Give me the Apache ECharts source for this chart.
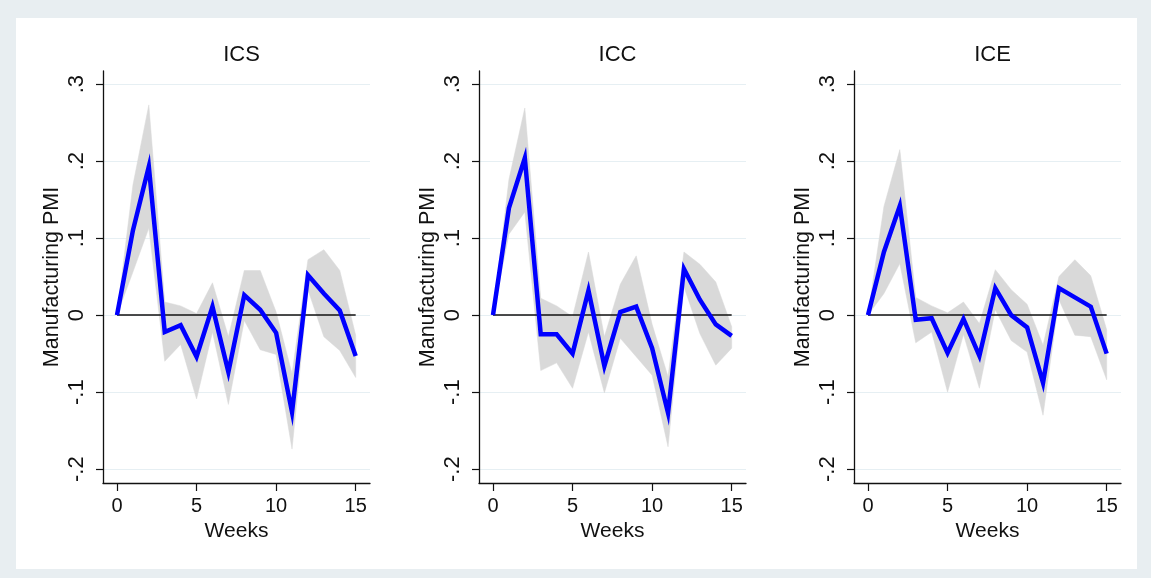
<!DOCTYPE html>
<html>
<head>
<meta charset="utf-8">
<script src="https://cdn.jsdelivr.net/npm/echarts@6.0.0/dist/echarts.min.js"></script>
<style>
  html, body { margin: 0; padding: 0; }
  #chart { width: 1151px; height: 578px; }
</style>
</head>
<body>
<div id="chart"></div>
<script>
// weeks after shock
const weeks = [0, 1, 2, 3, 4, 5, 6, 7, 8, 9, 10, 11, 12, 13, 14, 15];

// ICS
const icsIrf   = [0, 0.110, 0.193, -0.022, -0.013, -0.054, 0.011, -0.074, 0.026, 0.007, -0.023, -0.126, 0.052, 0.028, 0.006, -0.053];
const icsLower = [0, 0.056, 0.113, -0.060, -0.038, -0.109, -0.022, -0.116, -0.007, -0.045, -0.051, -0.174, 0.033, -0.028, -0.046, -0.081];
const icsUpper = [0, 0.169, 0.273, 0.017, 0.012, 0.002, 0.042, -0.028, 0.058, 0.058, 0.004, -0.076, 0.072, 0.085, 0.058, -0.026];

// ICC
const iccIrf   = [0, 0.139, 0.204, -0.025, -0.025, -0.050, 0.032, -0.066, 0.004, 0.011, -0.043, -0.127, 0.060, 0.020, -0.012, -0.027];
const iccLower = [0, 0.105, 0.134, -0.072, -0.062, -0.095, -0.022, -0.101, -0.030, -0.054, -0.078, -0.171, 0.037, -0.024, -0.065, -0.043];
const iccUpper = [0, 0.176, 0.269, 0.022, 0.012, -0.002, 0.082, -0.028, 0.040, 0.077, -0.012, -0.080, 0.082, 0.066, 0.043, -0.015];

// ICE
const iceIrf   = [0, 0.082, 0.142, -0.006, -0.004, -0.049, -0.005, -0.053, 0.035, 0.000, -0.016, -0.088, 0.035, 0.023, 0.011, -0.050];
const iceLower = [0, 0.028, 0.067, -0.036, -0.022, -0.100, -0.025, -0.095, 0.007, -0.033, -0.048, -0.130, 0.020, -0.026, -0.028, -0.084];
const iceUpper = [0, 0.141, 0.215, 0.023, 0.012, 0.003, 0.017, -0.011, 0.059, 0.033, 0.014, -0.039, 0.050, 0.072, 0.051, -0.019];

const panelTitles = ['ICS', 'ICC', 'ICE'];
const xTicks = [0, 5, 10, 15];
const yTicks = [-0.2, -0.1, 0, 0.1, 0.2, 0.3];
const yTickLabels = ['-.2', '-.1', '0', '.1', '.2', '.3'];

const panels = [
    {irf: icsIrf, lower: icsLower, upper: icsUpper},
    {irf: iccIrf, lower: iccLower, upper: iccUpper},
    {irf: iceIrf, lower: iceLower, upper: iceUpper}
];

const FONT = '"Liberation Sans", Arial, Helvetica, sans-serif';
const gridLefts = [103, 479, 854];
const gridWidth = 267;
const gridTop = 71;
const gridHeight = 412;

const chart = echarts.init(document.getElementById('chart'), null, {renderer: 'canvas'});

let grids = [], xAxes = [], yAxes = [], titles = [], series = [];

panels.forEach((p, i) => {
    grids.push({left: gridLefts[i], top: gridTop, width: gridWidth, height: gridHeight});
    titles.push({
        text: panelTitles[i],
        left: gridLefts[i] + gridWidth / 2,
        top: 39,
        textAlign: 'center',
        textStyle: {fontFamily: FONT, fontSize: 22, fontWeight: 'normal', color: '#111'}
    });
    xAxes.push({
        gridIndex: i,
        type: 'value',
        min: -0.88,
        max: 15.9,
        name: 'Weeks',
        nameLocation: 'middle',
        nameGap: 33,
        nameTextStyle: {fontFamily: FONT, fontSize: 21, color: '#111'},
        axisLine: {onZero: false, lineStyle: {color: '#111', width: 1.3}},
        axisTick: {customValues: xTicks, length: 8, lineStyle: {color: '#111', width: 1.2}},
        axisLabel: {customValues: xTicks, margin: 13, fontFamily: FONT, fontSize: 20, color: '#111'},
        splitLine: {show: false}
    });
    yAxes.push({
        gridIndex: i,
        type: 'value',
        min: -0.218,
        max: 0.317,
        name: 'Manufacturing PMI',
        nameLocation: 'middle',
        nameRotate: 90,
        nameGap: 40,
        nameTextStyle: {fontFamily: FONT, fontSize: 21.5, color: '#111'},
        axisLine: {show: true, onZero: false, lineStyle: {color: '#111', width: 1.3}},
        axisTick: {show: true, customValues: yTicks, length: 7, lineStyle: {color: '#111', width: 1.2}},
        axisLabel: {
            customValues: yTicks,
            rotate: 90,
            margin: 15,
            fontFamily: FONT, fontSize: 22, color: '#111',
            formatter: v => {
                const k = yTicks.findIndex(t => Math.abs(t - v) < 1e-6);
                return k >= 0 ? yTickLabels[k] : '';
            }
        },
        splitLine: {show: true, lineStyle: {color: '#e6eff3', width: 1.2}}
    });

    // confidence band as one polygon
    series.push({
        type: 'custom',
        xAxisIndex: i,
        yAxisIndex: i,
        data: weeks.map((w, k) => [w, p.lower[k], p.upper[k]]),
        encode: {x: 0, y: [1, 2]},
        silent: true,
        renderItem: (params, api) => {
            if (params.dataIndex !== 0) return;
            const up = weeks.map((w, k) => api.coord([w, p.upper[k]]));
            const lo = weeks.map((w, k) => api.coord([w, p.lower[k]])).reverse();
            return {
                type: 'polygon',
                shape: {points: up.concat(lo)},
                style: {fill: '#d9d9d9', stroke: '#d9d9d9', lineWidth: 0.5}
            };
        },
        z: 1
    });
    // zero reference line
    series.push({
        type: 'line',
        xAxisIndex: i,
        yAxisIndex: i,
        data: [[weeks[0], 0], [weeks[weeks.length - 1], 0]],
        symbol: 'none',
        silent: true,
        lineStyle: {color: '#111', width: 1.5},
        z: 2
    });
    // impulse response
    series.push({
        type: 'line',
        xAxisIndex: i,
        yAxisIndex: i,
        data: weeks.map((w, k) => [w, p.irf[k]]),
        symbol: 'none',
        silent: true,
        lineStyle: {color: '#0000ff', width: 4.5, join: 'miter'},
        z: 3
    });
});

chart.setOption({
    animation: false,
    backgroundColor: '#e8eef1',
    graphic: [{
        type: 'rect',
        shape: {x: 16, y: 18, width: 1121, height: 551},
        style: {fill: '#ffffff'},
        z: -10
    }],
    title: titles,
    grid: grids,
    xAxis: xAxes,
    yAxis: yAxes,
    series: series
});
</script>
</body>
</html>
